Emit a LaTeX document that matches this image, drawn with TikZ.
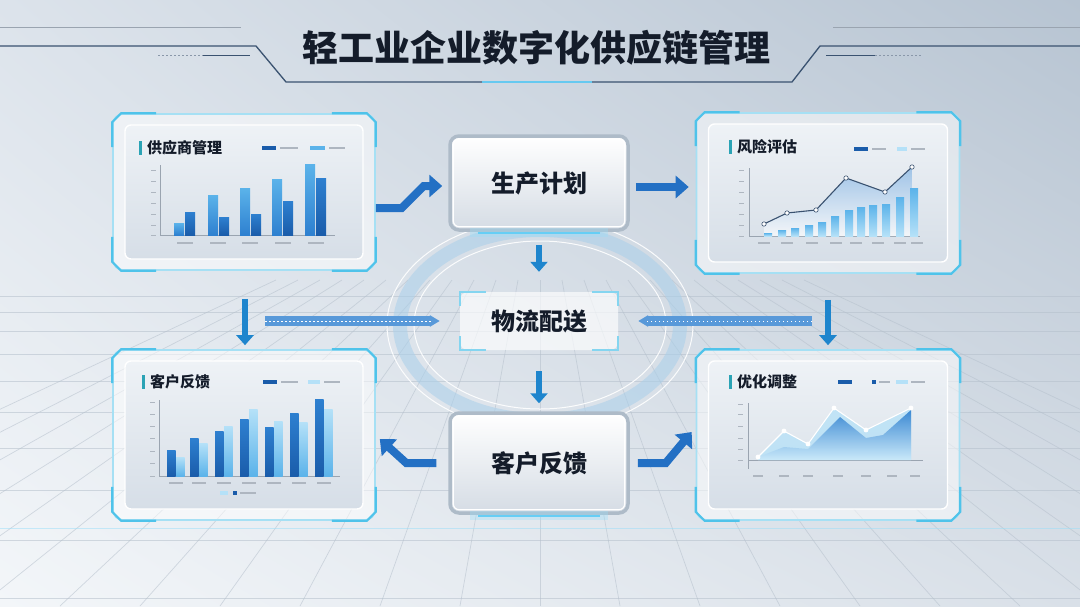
\documentclass[tikz,border=0pt]{standalone}
\usepackage{fontspec}
\newfontfamily\cjk{Noto Sans CJK SC}
\usetikzlibrary{arrows.meta, positioning, calc, shapes.geometric, shadings}

\definecolor{bgmid}{HTML}{EEF2F7}
\definecolor{bgedge}{HTML}{C3CDD9}
\definecolor{bgul}{HTML}{DCE3EB}
\definecolor{bgur}{HTML}{B7C4D2}
\definecolor{bgll}{HTML}{F3F6F9}
\definecolor{bglr}{HTML}{D9E0E8}
\definecolor{gridgray}{HTML}{B4BFCB}
\definecolor{inkdark}{HTML}{141C2A}
\definecolor{frameglow}{HTML}{A6E0F4}
\definecolor{framecyan}{HTML}{4FC3EA}
\definecolor{flowblue}{HTML}{2370C4}
\definecolor{barlight}{HTML}{5BB3EA}
\definecolor{barmid}{HTML}{2E80D0}
\definecolor{bardark}{HTML}{1A5CAA}
\definecolor{barpale}{HTML}{B5E1F8}
\definecolor{titleteal}{HTML}{2BA3B5}
\definecolor{steelrim}{HTML}{AEBBC8}
\definecolor{ringblue}{HTML}{A9CFEA}
\definecolor{linegray}{HTML}{3A5270}
\definecolor{labelgray}{HTML}{9AA4B0}
\definecolor{paneltop}{HTML}{EEF2F6}
\definecolor{panelbot}{HTML}{D6DEE7}

\begin{document}
\begin{tikzpicture}[
    x=1pt, y=-1pt,
    panel/.style={draw=frameglow, line width=1.6pt, rounded corners=10pt, fill=white, fill opacity=0.5},
    panelin/.style={draw=white, line width=1.4pt, rounded corners=6pt, top color=paneltop, bottom color=panelbot},
    ptitle/.style={font=\cjk\bfseries\fontsize{15}{15}\selectfont, text=inkdark, anchor=west, inner sep=0pt},
    stepbox/.style={draw=steelrim, line width=3.5pt, rounded corners=9pt, top color=white, bottom color=bgedge!70,
        font=\cjk\bfseries\fontsize{24}{24}\selectfont, text=inkdark, minimum width=178pt, minimum height=94pt},
    hubbox/.style={fill=white, fill opacity=0.65, text opacity=1, rounded corners=8pt,
        font=\cjk\bfseries\fontsize{24}{24}\selectfont, text=inkdark, minimum width=158pt, minimum height=58pt},
    corner/.style={draw=framecyan, line width=2.2pt},
    flow/.style={draw=flowblue, line width=8pt, -{Triangle[length=13pt, width=22pt]}},
    flowsmall/.style={draw=flowblue!85!cyan, line width=6pt, -{Triangle[length=10pt, width=17pt]}},
    pipe/.style={draw=barmid!80, line width=10pt, -{Triangle[length=10pt, width=11pt]}},
    axisline/.style={draw=labelgray, line width=0.6pt},
    ticktext/.style={draw=labelgray!80, line width=1.3pt},
    gridline/.style={draw=gridgray, line width=0.7pt, opacity=0.55}
]
\useasboundingbox (0,0) rectangle (1080,606);

% background
\shade[upper left=bgul, upper right=bgur, lower left=bgll, lower right=bglr] (0,0) rectangle (1080,606);
\foreach \yy in {296,312,331,354,381,412,448,490,540,598}
  \draw[gridline] (0,\yy) -- (1080,\yy);
\foreach \k in {-12,...,12}
  \draw[gridline] (540+\k*22,280) -- (540+\k*80,606);
\draw[cyan!40, line width=1pt, opacity=0.5] (0,528) -- (1080,528);

% title
\draw[labelgray, line width=0.8pt] (0,27) -- (241,27);
\draw[labelgray, line width=0.8pt] (833,27) -- (1080,27);
\draw[linegray, line width=1.3pt] (0,46) -- (256,46) -- (286,82) -- (482,82);
\draw[linegray, line width=1.3pt] (1080,46) -- (820,46) -- (792,82) -- (592,82);
\draw[cyan!70, line width=2.5pt, opacity=0.8] (482,82) -- (592,82);
\draw[linegray!60, line width=1pt, dash pattern=on 1.5pt off 2.5pt] (158,55) -- (203,55);
\draw[linegray, line width=1pt] (203,55) -- (250,55);
\draw[linegray, line width=1pt] (826,55) -- (875,55);
\draw[linegray!60, line width=1pt, dash pattern=on 1.5pt off 2.5pt] (875,55) -- (923,55);
\node[font=\cjk\bfseries\fontsize{36}{36}\selectfont, text=inkdark] (title) at (536,48) {轻工业企业数字化供应链管理};

% ring behind the hub
\draw[ringblue, line width=14pt, opacity=0.55] (540,325) ellipse [x radius=140, y radius=95];
\draw[white, line width=1pt, opacity=0.9] (540,325) ellipse [x radius=126, y radius=84];
\draw[white, line width=1pt, opacity=0.9] (540,325) ellipse [x radius=153, y radius=106];

% panels
\node[panel, minimum width=262pt, minimum height=156pt] (supp) at (244,192) {};
\node[panelin, minimum width=238pt, minimum height=134pt] (supp-in) at (supp) {};
\node[panel, minimum width=263pt, minimum height=160pt] (risk) at (828,193) {};
\node[panelin, minimum width=239pt, minimum height=138pt] (risk-in) at (risk) {};
\node[panel, minimum width=262pt, minimum height=170pt] (cust) at (244,435) {};
\node[panelin, minimum width=238pt, minimum height=148pt] (cust-in) at (cust) {};
\node[panel, minimum width=263pt, minimum height=170pt] (opt) at (828,435) {};
\node[panelin, minimum width=239pt, minimum height=148pt] (opt-in) at (opt) {};

\foreach \p in {supp,risk,cust,opt} {
  \draw[corner] ($(\p.north west)+(0,34)$) -- ($(\p.north west)+(0,9)$) -- ($(\p.north west)+(9,0)$) -- ($(\p.north west)+(44,0)$);
  \draw[corner] ($(\p.north east)+(0,34)$) -- ($(\p.north east)+(0,9)$) -- ($(\p.north east)+(-9,0)$) -- ($(\p.north east)+(-44,0)$);
  \draw[corner] ($(\p.south west)+(0,-34)$) -- ($(\p.south west)+(0,-9)$) -- ($(\p.south west)+(9,0)$) -- ($(\p.south west)+(44,0)$);
  \draw[corner] ($(\p.south east)+(0,-34)$) -- ($(\p.south east)+(0,-9)$) -- ($(\p.south east)+(-9,0)$) -- ($(\p.south east)+(-44,0)$);
}

% panel titles
\node[ptitle] (supp-t) at (147,148) {供应商管理};
\node[ptitle] (risk-t) at (737,147) {风险评估};
\node[ptitle] (cust-t) at (150,382) {客户反馈};
\node[ptitle] (opt-t) at (737,382) {优化调整};
\foreach \t in {supp-t,risk-t,cust-t,opt-t}
  \draw[titleteal, line width=3pt] ($(\t.west)+(-7,-7)$) -- ++(0,14);

% chart: supplier bars
\draw[axisline] (160,165) -- (160,235) -- (335,235);
\foreach \x/\t in {174/223, 208/195, 240/188, 272/179, 305/164}
  \shade[top color=barlight, bottom color=barmid] (\x,\t) rectangle (\x+10,235);
\foreach \x/\t in {185/212, 219/217, 251/214, 283/201, 316/178}
  \shade[top color=barmid, bottom color=bardark] (\x,\t) rectangle (\x+10,235);
\foreach \x in {185,218,250,283,316}
  \draw[ticktext] (\x-8,243) -- (\x+8,243);
\foreach \yy in {170,181,192,203,214,225,235}
  \draw[ticktext, line width=1pt] (151,\yy) -- (156,\yy);
\fill[bardark] (262,146) rectangle (276,150);
\draw[ticktext] (280,148) -- (298,148);
\fill[barlight] (310,146) rectangle (325,150);
\draw[ticktext] (329,148) -- (345,148);

% chart: risk line and bars
\draw[axisline] (749,168) -- (749,236) -- (920,236);
\shade[top color=barmid!60, bottom color=white, opacity=0.7]
  (764,224) -- (787,213) -- (816,210) -- (846,178) -- (885,192) -- (912,167) -- (912,236) -- (764,236) -- cycle;
\foreach \x/\t in {768/233, 782/230, 795/228, 809/225, 822/222, 835/216, 849/210, 861/207, 873/205, 886/204, 900/197, 914/188}
  \shade[top color=barlight, bottom color=barpale] (\x-4,\t) rectangle (\x+4,236);
\draw[linegray, line width=1.1pt] (764,224) -- (787,213) -- (816,210) -- (846,178) -- (885,192) -- (912,167);
\foreach \x/\t in {764/224, 787/213, 816/210, 846/178, 885/192, 912/167}
  \filldraw[fill=white, draw=linegray, line width=0.6pt] (\x,\t) circle (2.2pt);
\foreach \x in {764,787,812,836,856,878,900,917}
  \draw[ticktext] (\x-6,243) -- (\x+6,243);
\foreach \yy in {170,181,192,203,214,225,236}
  \draw[ticktext, line width=1pt] (739,\yy) -- (744,\yy);
\fill[bardark] (854,147) rectangle (868,151);
\draw[ticktext] (872,149) -- (886,149);
\fill[barpale] (897,147) rectangle (907,151);
\draw[ticktext] (911,149) -- (925,149);

% chart: feedback bars
\draw[axisline] (159,400) -- (159,476) -- (340,476);
\foreach \x/\t in {167/450, 190/438, 215/431, 240/419, 265/427, 290/413, 315/399}
  \shade[top color=barmid, bottom color=bardark] (\x,\t) rectangle (\x+8.5,476);
\foreach \x/\t in {176/457, 199/443, 224/426, 249/409, 274/421, 299/422, 324/409}
  \shade[top color=barpale, bottom color=barlight] (\x,\t) rectangle (\x+8.5,476);
\foreach \x in {176,199,224,249,274,299,324}
  \draw[ticktext] (\x-7,483) -- (\x+7,483);
\foreach \yy in {402,414,426,438,451,463,476}
  \draw[ticktext, line width=1pt] (150,\yy) -- (155,\yy);
\fill[bardark] (263,380) rectangle (277,384);
\draw[ticktext] (281,382) -- (298,382);
\fill[barpale] (308,380) rectangle (320,384);
\draw[ticktext] (324,382) -- (340,382);
\fill[barpale] (220,491) rectangle (228,495);
\fill[bardark] (233,491) rectangle (237,495);
\draw[ticktext] (240,493) -- (256,493);

% chart: adjustment areas
\draw[axisline] (748,403) -- (748,469);
\draw[axisline] (748,460) -- (923,460);
\fill[barpale, opacity=0.75]
  (758,457) -- (784,431) -- (808,444) -- (834,408) -- (866,430) -- (911,408) -- (911,460) -- (758,460) -- cycle;
\shade[top color=barmid, bottom color=barpale!70, opacity=0.9]
  (758,457) -- (784,447) -- (808,449) -- (840,417) -- (866,438) -- (883,435) -- (911,410) -- (911,460) -- (758,460) -- cycle;
\draw[white, line width=1.1pt] (758,457) -- (784,431) -- (808,444) -- (834,408) -- (866,430) -- (911,408);
\foreach \x/\t in {758/457, 784/431, 808/444, 834/408, 866/430, 911/408}
  \fill[white] (\x,\t) circle (2.4pt);
\foreach \x in {758,784,808,838,866,892,915}
  \draw[ticktext] (\x-5,476) -- (\x+5,476);
\foreach \yy in {404,414,426,438,449,460}
  \draw[ticktext, line width=1pt] (738,\yy) -- (743,\yy);
\fill[bardark] (838,380) rectangle (852,384);
\fill[bardark] (872,380) rectangle (876,384);
\draw[ticktext] (879,382) -- (890,382);
\fill[barpale] (896,380) rectangle (908,384);
\draw[ticktext] (911,382) -- (925,382);

% centre steps
\node[stepbox] (plan) at (539,183) {生产计划};
\node[hubbox] (logi) at (539,321) {物流配送};
\node[stepbox, minimum height=100pt] (fb) at (539,463) {客户反馈};

\draw[white, line width=1.2pt, rounded corners=6pt] ($(plan.north west)+(5,5)$) rectangle ($(plan.south east)+(-5,-5)$);
\draw[white, line width=1.2pt, rounded corners=6pt] ($(fb.north west)+(5,5)$) rectangle ($(fb.south east)+(-5,-5)$);
\foreach \b in {plan,fb} {
  \draw[cyan!40, line width=9pt, opacity=0.35] ($(\b.south west)+(22,1)$) -- ($(\b.south east)+(-22,1)$);
  \draw[cyan!60!white, line width=2.5pt] ($(\b.south west)+(30,1)$) -- ($(\b.south east)+(-30,1)$);
}
\draw[framecyan!70, line width=2pt] ($(logi.north west)+(0,14)$) -- (logi.north west) -- ++(26,0);
\draw[framecyan!70, line width=2pt] ($(logi.north east)+(0,14)$) -- (logi.north east) -- ++(-26,0);
\draw[framecyan!70, line width=2pt] ($(logi.south west)+(0,-14)$) -- (logi.south west) -- ++(26,0);
\draw[framecyan!70, line width=2pt] ($(logi.south east)+(0,-14)$) -- (logi.south east) -- ++(-26,0);

% connectors
\coordinate (pipe-l) at (265,321);
\coordinate (pipe-r) at (812,321);
\draw[flow] ($(supp.east)+(0,16)$) -- ++(26,0) -- ++(22,-22) -- ($(plan.west)+(-6,3)$);
\draw[flow] ($(plan.east)+(6,4)$) -- ($(risk.west)+(-7,-6)$);
\draw[flowsmall] ($(plan.south)+(0,13)$) -- ($(logi.north)+(0,-20)$);
\draw[flowsmall] ($(logi.south)+(0,21)$) -- ($(fb.north)+(0,-8)$);
\draw[pipe, shorten >=20pt] (pipe-l) -- (logi.west);
\draw[pipe, shorten >=20pt] (pipe-r) -- (logi.east);
\draw[white, line width=1pt, dash pattern=on 1.5pt off 2.5pt] (pipe-l) -- ($(logi.west)+(-28,0)$);
\draw[white, line width=1pt, dash pattern=on 1.5pt off 2.5pt] (pipe-r) -- ($(logi.east)+(28,0)$);
\draw[flowsmall] ($(supp.south)+(1,28)$) -- ($(cust.north)+(1,-4)$);
\draw[flowsmall] ($(risk.south)+(0,26)$) -- ($(opt.north)+(0,-4)$);
\draw[flow] ($(fb.west)+(-12,0)$) -- ++(-30,0) -- ($(cust.east)+(4,4)$);
\draw[flow] ($(fb.east)+(8,0)$) -- ++(28,0) -- ($(opt.west)+(-4,-3)$);

\end{tikzpicture}
\end{document}
